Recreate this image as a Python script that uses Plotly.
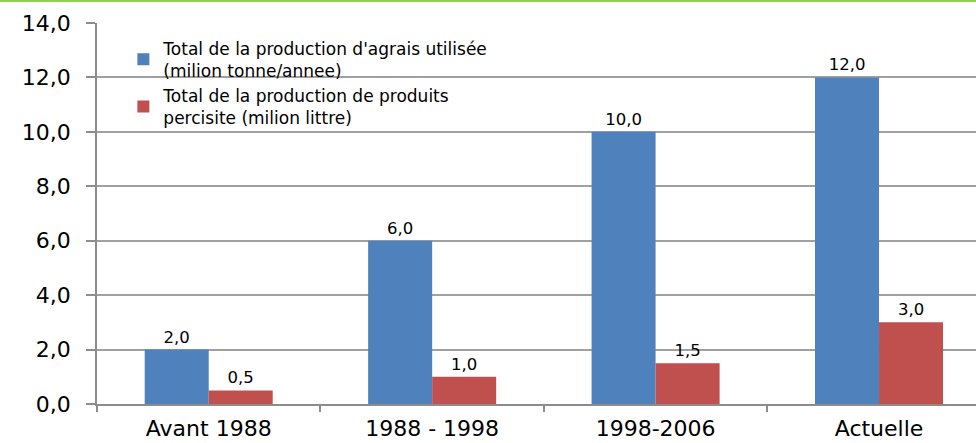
import plotly.graph_objects as go

categories = ["Avant 1988", "1988 - 1998", "1998-2006", "Actuelle"]
agrais = [2.0, 6.0, 10.0, 12.0]
produits = [0.5, 1.0, 1.5, 3.0]
name_agrais = "Total de la production d'agrais utilisée<br>(milion tonne/annee)"
name_produits = "Total de la production de produits<br>percisite (milion littre)"
y_ticks = [0, 2, 4, 6, 8, 10, 12, 14]

FONT = "DejaVu Sans, Liberation Sans, Arial, sans-serif"

fig = go.Figure()
fig.add_trace(go.Bar(x=categories, y=agrais, name=name_agrais,
                     marker=dict(color="#4F81BD", line=dict(width=0)),
                     texttemplate="%{y:.1f}", textposition="outside",
                     textfont=dict(size=16.5, color="#000000"), cliponaxis=False))
fig.add_trace(go.Bar(x=categories, y=produits, name=name_produits,
                     marker=dict(color="#C0504D", line=dict(width=0)),
                     texttemplate="%{y:.1f}", textposition="outside",
                     textfont=dict(size=16.5, color="#000000"), cliponaxis=False))

fig.update_layout(
    width=976, height=443,
    margin=dict(l=97, r=0, t=23, b=39),
    paper_bgcolor="white", plot_bgcolor="white",
    separators=", ",
    barmode="group", bargap=0.427, bargroupgap=0,
    font=dict(family=FONT, color="#000000"),
    showlegend=True,
    legend=dict(x=0.03, y=0.98, xanchor="left", yanchor="top",
                bgcolor="rgba(0,0,0,0)", font=dict(size=17),
                itemwidth=30),
    xaxis=dict(range=[-0.5, 3.434], showgrid=False, showline=True,
               linecolor="#8c8c8c", linewidth=1.5,
               ticks="outside", tickson="boundaries", ticklen=6,
               tickcolor="#8c8c8c", tickwidth=1.5,
               tickfont=dict(size=22), ticklabelstandoff=4,
               automargin=False),
    yaxis=dict(range=[0, 14], tickvals=y_ticks, tickformat=".1f",
               showgrid=True, gridcolor="#a0a0a0", gridwidth=1.5,
               showline=True, linecolor="#8c8c8c", linewidth=1.5,
               ticks="outside", ticklen=9, tickcolor="#8c8c8c", tickwidth=1.5,
               tickfont=dict(size=22), ticklabelstandoff=11,
               zeroline=False, automargin=False),
    shapes=[dict(type="line", xref="paper", yref="paper",
                 x0=-97/879, x1=1, y0=1 + 22/381, y1=1 + 22/381,
                 line=dict(color="#92D050", width=2))],
)

fig.write_html("out.html",
               config={"displayModeBar": False},
               post_script="document.body.style.margin='0';document.body.style.overflow='hidden';window.dispatchEvent(new Event('resize'));")
